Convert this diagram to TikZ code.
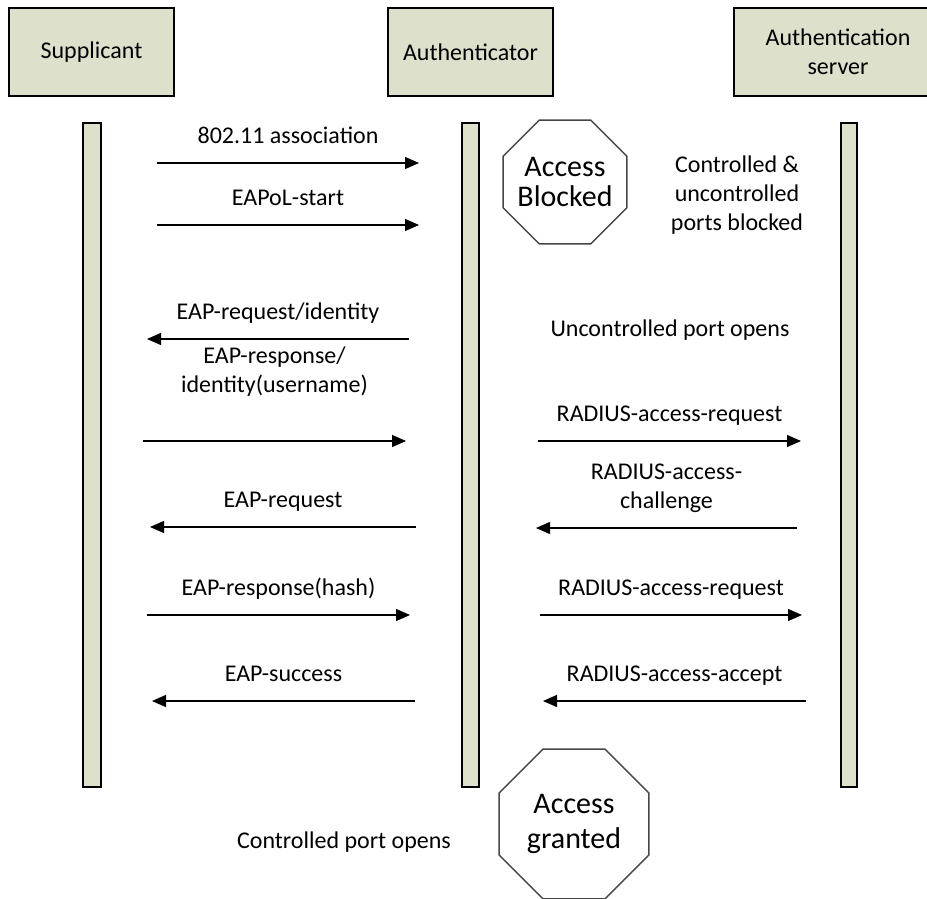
\documentclass[tikz,border=0pt]{standalone}
\usepackage{fontspec}
\setmainfont{Carlito}
\usetikzlibrary{shapes.geometric,arrows.meta}
\definecolor{boxfill}{RGB}{221,224,203}
\definecolor{octline}{RGB}{70,70,70}
\begin{document}
\begin{tikzpicture}[x=1pt,y=-1pt,
  actor/.style={draw=black, line width=1.5pt, fill=boxfill, align=center,
    inner sep=0pt, font=\fontsize{24}{29}\selectfont},
  lifeline/.style={draw=black, line width=1.3pt, fill=boxfill, inner sep=0pt},
  msg/.style={line width=1.3pt, -{Triangle[length=14pt,width=12pt]}},
  lbl/.style={font=\fontsize{24}{29}\selectfont, align=center, inner sep=0pt,
    anchor=base, yshift=20pt},
  note/.style={font=\fontsize{24}{29}\selectfont, align=center, inner sep=0pt, anchor=base},
  stopsign/.style={draw=octline, line width=1.4pt, regular polygon,
    regular polygon sides=8, inner sep=-30pt, align=center}
]
\useasboundingbox (0,0) rectangle (927,899);
\clip (0,0) rectangle (927,899);

% participants
\node[actor, minimum width=165pt, minimum height=88pt] (sup) at (91.5,52) {Supplicant};
\node[actor, minimum width=165pt, minimum height=88pt] (aut) at (470.5,52) {Authenticator};
\node[actor, minimum width=208pt, minimum height=88pt] (srv) at (838,52) {Authentication\\server};

% lifelines
\node[lifeline, minimum width=18pt, minimum height=664pt] (supbar) at (92,455) {};
\node[lifeline, minimum width=17pt, minimum height=664pt] (autbar) at (470.5,455) {};
\node[lifeline, minimum width=16pt, minimum height=664pt] (srvbar) at (849,455) {};

% port states
\node[stopsign, minimum size=134pt, font=\fontsize{30}{30}\selectfont] (blocked) at (565,182) {Access\\Blocked};
\node[stopsign, minimum size=162pt, font=\fontsize{30}{35}\selectfont] (granted) at (574,824) {Access\\granted};

\node[note] (ctrlblk) at (737,230) {Controlled \&\\uncontrolled\\ports blocked};
\node[note] (uncopen) at (670,336) {Uncontrolled port opens};
\node[note] (ctrlopen) at (344,848) {Controlled port opens};

% message end points
\coordinate (a1) at (157,163); \coordinate (b1) at (419,163);
\coordinate (a2) at (157,225); \coordinate (b2) at (419,225);
\coordinate (a3) at (409,339); \coordinate (b3) at (147,339);
\coordinate (a4) at (143,441); \coordinate (b4) at (406,441);
\coordinate (a5) at (416,527); \coordinate (b5) at (150,527);
\coordinate (a6) at (147,615); \coordinate (b6) at (410,615);
\coordinate (a7) at (415,701); \coordinate (b7) at (152,701);
\coordinate (a8) at (538,441); \coordinate (b8) at (801,441);
\coordinate (a9) at (797,528); \coordinate (b9) at (536,528);
\coordinate (a10) at (540,615); \coordinate (b10) at (802,615);
\coordinate (a11) at (806,701); \coordinate (b11) at (543,701);

% supplicant <-> authenticator
\draw[msg] (a1) -- node[lbl] {802.11 association} (b1);
\draw[msg] (a2) -- node[lbl] {EAPoL-start} (b2);
\draw[msg] (a3) -- node[lbl] {EAP-request/identity} (b3);
\draw[msg] (a4) -- node[lbl, yshift=29pt] {EAP-response/\\identity(username)} (b4);
\draw[msg] (a5) -- node[lbl] {EAP-request} (b5);
\draw[msg] (a6) -- node[lbl] {EAP-response(hash)} (b6);
\draw[msg] (a7) -- node[lbl] {EAP-success} (b7);

% authenticator <-> server
\draw[msg] (a8) -- node[lbl] {RADIUS-access-request} (b8);
\draw[msg] (a9) -- node[lbl] {RADIUS-access-\\challenge} (b9);
\draw[msg] (a10) -- node[lbl] {RADIUS-access-request} (b10);
\draw[msg] (a11) -- node[lbl] {RADIUS-access-accept} (b11);
\end{tikzpicture}
\end{document}
